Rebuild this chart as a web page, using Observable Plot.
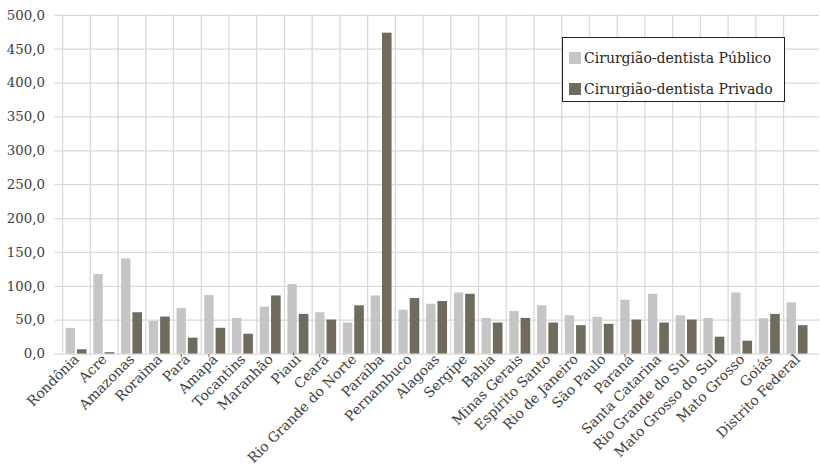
<!DOCTYPE html>
<html>
<head>
<meta charset="utf-8">
<script src="https://cdn.jsdelivr.net/npm/d3@7"></script>
<script src="https://cdn.jsdelivr.net/npm/@observablehq/plot@0.6"></script>
<style>
  html, body { margin: 0; padding: 0; overflow: hidden; background: #fff; }
  #wrap { position: relative; width: 820px; height: 470px; }
  #legend {
    position: absolute; left: 562px; top: 37px; width: 221px; height: 63px;
    border: 1.3px solid #222; background: #fff;
    font-family: "DejaVu Serif", serif; font-size: 14px; color: #262626;
  }
  .item { position: absolute; left: 6px; height: 17px; line-height: 17px; display: flex; align-items: center; white-space: nowrap; }
  .sw { width: 12px; height: 12px; margin-right: 3px; }
</style>
</head>
<body>
<div id="wrap">
  <div id="chart"></div>
  <div id="legend"></div>
</div>
<script>
const states = ["Rondônia","Acre","Amazonas","Roraima","Pará","Amapá","Tocantins","Maranhão","Piauí","Ceará","Rio Grande do Norte","Paraíba","Pernambuco","Alagoas","Sergipe","Bahia","Minas Gerais","Espírito Santo","Rio de Janeiro","São Paulo","Paraná","Santa Catarina","Rio Grande do Sul","Mato Grosso do Sul","Mato Grosso","Goiás","Distrito Federal"];
const publico = [38.0,117.4,140.4,48.2,67.3,86.3,52.6,69.2,102.8,61.0,45.8,85.8,64.8,73.5,90.2,52.6,62.9,71.2,56.5,54.1,79.4,88.2,56.5,52.6,90.2,52.2,75.6];
const privado = [6.3,2.0,61.0,54.6,23.4,38.0,29.2,85.8,58.5,50.2,71.2,473.7,81.9,77.5,88.2,45.8,52.6,45.8,41.9,43.9,50.2,45.8,50.2,24.9,19.0,58.5,41.9];
const seriesNames = ["Cirurgião-dentista Público","Cirurgião-dentista Privado"];
const seriesColors = ["#c4c5c4","#6f6c5e"];
const yTicks = [0,50,100,150,200,250,300,350,400,450,500];

const W = 828, ML = 55, MR = 1;
const bw = (W - ML - MR) / states.length;

const rowsPub = states.map((s, i) => ({state: s, v: publico[i]}));
const rowsPriv = states.map((s, i) => ({state: s, v: privado[i]}));
const fmt = d => d.toFixed(1).replace(".", ",");

const chart = Plot.plot({
  width: W, height: 470,
  marginLeft: ML, marginRight: MR, marginTop: 15, marginBottom: 113,
  style: {fontFamily: "'DejaVu Serif', serif", fontSize: "14px", color: "#404040", background: "#fff"},
  x: {domain: states, padding: 0, label: null},
  y: {domain: [0, 500], label: null},
  marks: [
    Plot.gridY(yTicks, {stroke: "#d9d9d9", strokeOpacity: 1, strokeWidth: 1.3}),
    Plot.ruleX(states, {x: d => d, dx: -bw / 2, stroke: "#d9d9d9", strokeWidth: 1.3}),
    Plot.barY(rowsPub, {x: "state", y: "v", fill: seriesColors[0], insetLeft: 3.3, insetRight: 15.3}),
    Plot.barY(rowsPriv, {x: "state", y: "v", fill: seriesColors[1], insetLeft: 14.7, insetRight: 3.6}),
    Plot.axisY(yTicks, {tickSize: 0, tickPadding: 10, tickFormat: fmt, fontSize: 13.5, label: null}),
    Plot.axisX({tickRotate: -45, tickSize: 0, tickPadding: 3, fontSize: 14, label: null})
  ]
});
document.getElementById("chart").appendChild(chart);

const legend = document.getElementById("legend");
seriesNames.forEach((name, i) => {
  const it = document.createElement("div");
  it.className = "item";
  it.style.top = (i === 0 ? 11.5 : 42.5) + "px";
  const sw = document.createElement("div");
  sw.className = "sw";
  sw.style.background = seriesColors[i];
  const tx = document.createElement("span");
  tx.textContent = name;
  it.appendChild(sw); it.appendChild(tx);
  legend.appendChild(it);
});
</script>
</body>
</html>
